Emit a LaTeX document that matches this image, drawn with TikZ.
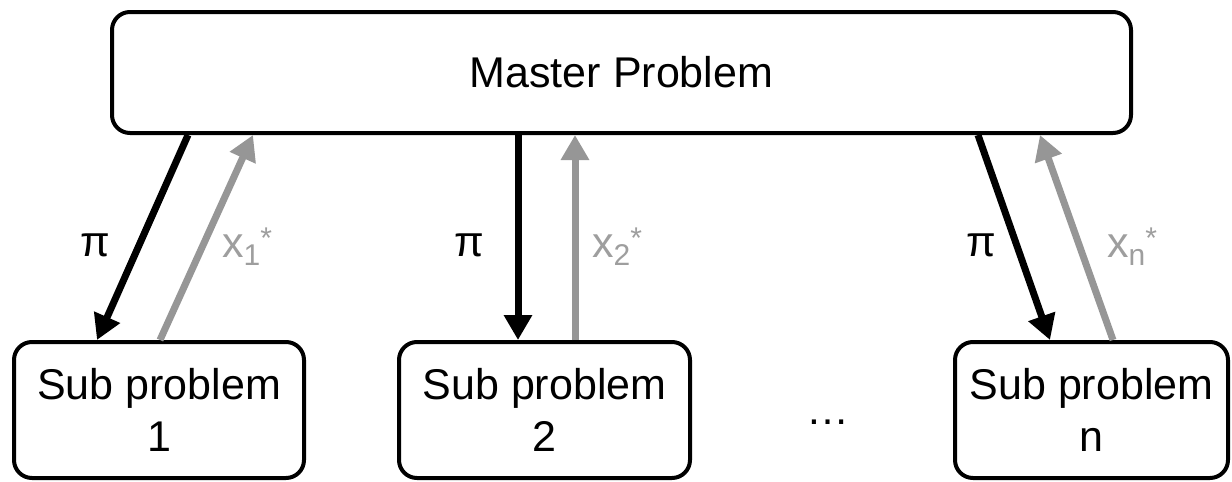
\documentclass[tikz,border=0pt]{standalone}
\usepackage{fontspec}
\setmainfont{Liberation Sans}
\usetikzlibrary{arrows.meta,calc}
\definecolor{fbgray}{RGB}{150,150,150}
\definecolor{lblgray}{RGB}{158,158,158}
% optimal solution label: x with subscript index and star
\newcommand{\solx}[1]{x\raisebox{-8pt}{\fontsize{30}{30}\selectfont #1}\raisebox{9pt}{\fontsize{30}{30}\selectfont *}}

\begin{document}
\begin{tikzpicture}[x=1pt,y=-1pt,
  box/.style={draw=black, line width=4pt, rounded corners=18pt, inner sep=0pt,
              align=center, font=\fontsize{43}{52}\selectfont},
  down/.style={draw=black, line width=7pt, -{Triangle[length=25pt,width=27pt]}},
  up/.style={draw=fbgray, line width=7pt, -{Triangle[length=25pt,width=27pt]}},
  lbl/.style={inner sep=0pt, font=\fontsize{43}{52}\selectfont},
  sollbl/.style={lbl, anchor=base west, text=lblgray}]
\useasboundingbox (0,0) rectangle (1232,482);

% boxes
\node[box, minimum width=1019pt, minimum height=121pt] (master) at (621.5,72.5) {Master Problem};
\node[box, minimum width=290pt, minimum height=136pt] (sub1) at (159,410) {Sub problem\\1};
\node[box, minimum width=291pt, minimum height=136pt] (sub2) at (544.5,410) {Sub problem\\2};
\node[box, minimum width=273pt, minimum height=136pt] (subn) at (1091.5,410) {Sub problem\\n};
\node[lbl, anchor=base] (dots) at (828,424) {\ldots};

% dual prices down, solutions up
\draw[down] ($(master.south west)+(78,0)$)  -- ($(sub1.north west)+(85,0)$);
\draw[up]   ($(sub1.north west)+(148,0)$)   -- ($(master.south west)+(143,0)$);
\draw[down] ($(master.south west)+(408,0)$) -- ($(sub2.north west)+(121,0)$);
\draw[up]   ($(sub2.north west)+(178,0)$)   -- ($(master.south west)+(465,0)$);
\draw[down] ($(master.south west)+(868,0)$) -- ($(subn.north west)+(97,0)$);
\draw[up]   ($(subn.north west)+(160,0)$)   -- ($(master.south west)+(930,0)$);

% labels
\node[lbl, anchor=base] (pi1) at (95,256) {π};
\node[lbl, anchor=base] (pi2) at (469,256) {π};
\node[lbl, anchor=base] (pin) at (981,256) {π};
\node[sollbl] (x1) at (222,257) {\solx{1}};
\node[sollbl] (x2) at (592,257) {\solx{2}};
\node[sollbl] (xn) at (1107,257) {\solx{n}};
\end{tikzpicture}
\end{document}
